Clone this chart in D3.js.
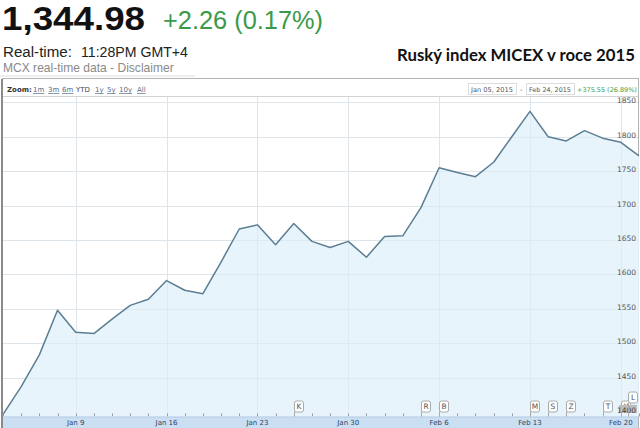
<!DOCTYPE html>
<html><head><meta charset="utf-8">
<script src="https://cdn.jsdelivr.net/npm/d3@7"></script>
<style>body{margin:0;background:#fff}svg{display:block}</style>
</head><body>
<svg id="c" width="640" height="428"></svg>
<script>
// ---- data ----
const dates = ["Jan 5","Jan 6","Jan 7","Jan 8","Jan 9","Jan 12","Jan 13","Jan 14","Jan 15","Jan 16",
  "Jan 19","Jan 20","Jan 21","Jan 22","Jan 23","Jan 26","Jan 27","Jan 28","Jan 29","Jan 30",
  "Feb 2","Feb 3","Feb 4","Feb 5","Feb 6","Feb 9","Feb 10","Feb 11","Feb 12","Feb 13",
  "Feb 16","Feb 17","Feb 18","Feb 19","Feb 20","Feb 24"];
const values = [1396.6,1437,1483,1548,1516,1514,1535,1555,1564,1591,
  1577,1572,1618,1666,1672,1643,1674,1648,1639,1648,
  1625,1655,1656,1697,1755,1748,1742,1763,1800,1837,
  1800,1794,1809,1798,1792,1772.2];
const xTickLabels = ["Jan 9","Jan 16","Jan 23","Jan 30","Feb 6","Feb 13","Feb 20"];
const yTicks = [1400,1450,1500,1550,1600,1650,1700,1750,1800,1850];
const flagLetters = ["K","R","B","M","S","Z","T","Y","L"];
const flagDates = ["Jan 27","Feb 5","Feb 6","Feb 13","Feb 16","Feb 17","Feb 19","Feb 20","Feb 24"];
const flagLevels = [0,0,0,0,0,0,0,0,1];
const zoomLinks = ["1m","3m","6m","YTD","1y","5y","10y","All"];
const price = "1,344.98", change = "+2.26 (0.17%)";
const rangeStart = "Jan 05, 2015", rangeEnd = "Feb 24, 2015", rangeChange = "+375.55 (26.89%)";
const title = "Ruský index MICEX v roce 2015";

const svg = d3.select("#c");
const SANS = "'Liberation Sans', Arial, sans-serif";
const SMALL = "'DejaVu Sans', Verdana, sans-serif";

function fit(sel, w){ const l = sel.node().getComputedTextLength(); const fs = parseFloat(sel.attr("font-size")); sel.attr("font-size", fs*w/l); return sel; }
function stretch(sel, w){ sel.attr("textLength", w).attr("lengthAdjust","spacingAndGlyphs"); return sel; }

// ---- header ----
stretch(svg.append("text").attr("x",2).attr("y",30).attr("font-family",SANS).attr("font-weight","bold").attr("font-size",33).attr("fill","#111").text(price),143);
stretch(svg.append("text").attr("x",163).attr("y",28.5).attr("font-family",SANS).attr("font-size",26).attr("fill","#3a9a4a").text(change),160);
fit(svg.append("text").attr("x",3).attr("y",57).attr("font-family",SANS).attr("font-size",14.5).attr("fill","#222").text("Real-time:"),69);
fit(svg.append("text").attr("x",81).attr("y",57).attr("font-family",SANS).attr("font-size",14.5).attr("fill","#222").text("11:28PM GMT+4"),107);
fit(svg.append("text").attr("x",3).attr("y",72).attr("font-family",SANS).attr("font-size",13).attr("fill","#8a8a8a").text("MCX real-time data - Disclaimer"),171);
fit(svg.append("text").attr("x",397).attr("y",61).attr("font-family","Lato, 'Open Sans', sans-serif").attr("font-weight","bold").attr("font-size",17).attr("fill","#111").text(title),238);
svg.append("rect").attr("x",0).attr("y",75).attr("width",195).attr("height",2).attr("fill","#eee");

// ---- chart frame ----
const L = 3, R = 638, TOP = 96, BOT = 416.5;
svg.append("rect").attr("x",2.5).attr("y",78.5).attr("width",636).attr("height",360).attr("fill","#fff").attr("stroke","#b4b4b4");
svg.append("line").attr("x1",3).attr("x2",638).attr("y1",96.5).attr("y2",96.5).attr("stroke","#d4d4d4");

// zoom row
svg.append("text").attr("x",7).attr("y",92).attr("font-family",SMALL).attr("font-weight","bold").attr("font-size",7).attr("fill","#333").text("Zoom:");
const zx = [33,48,62,76,95,107,119,137];
zoomLinks.forEach((z,i)=>{
  const t = svg.append("text").attr("x",zx[i]).attr("y",92).attr("font-family",SMALL).attr("font-size",7).attr("fill",z==="YTD"?"#444":"#5a6d8c").text(z);
  if(z!=="YTD") t.attr("text-decoration","underline");
});
const rs = svg.append("text").attr("x",471).attr("y",92).attr("font-family",SMALL).attr("font-size",7).attr("fill","#555").text(rangeStart);
fit(rs,42);
svg.append("rect").attr("x",468.5).attr("y",83.5).attr("width",48).attr("height",11).attr("fill","none").attr("stroke","#ddd");
svg.append("text").attr("x",520).attr("y",92).attr("font-family",SMALL).attr("font-size",7).attr("fill","#555").text("-");
const re = svg.append("text").attr("x",529).attr("y",92).attr("font-family",SMALL).attr("font-size",7).attr("fill","#555").text(rangeEnd);
fit(re,42);
svg.append("rect").attr("x",526.5).attr("y",83.5).attr("width",48).attr("height",11).attr("fill","none").attr("stroke","#ddd");
fit(svg.append("text").attr("x",577).attr("y",92).attr("font-family",SMALL).attr("font-size",7).attr("fill","#3a9a4a").text(rangeChange),60);

// ---- scales ----
const x = d3.scaleLinear().domain([0, dates.length-1]).range([3, 639]);
const y = d3.scaleLinear().domain([1400, 1850]).range([412, 102.4]);
const idx = d => dates.indexOf(d);

const g = svg.append("g");
// horizontal grid
g.selectAll(".hg").data(yTicks.filter(t=>t>1400)).join("line")
  .attr("x1",L).attr("x2",R).attr("y1",d=>Math.round(y(d))+0.5).attr("y2",d=>Math.round(y(d))+0.5)
  .attr("stroke","#e6e6e6");
// vertical grid
g.selectAll(".vg").data(xTickLabels).join("line")
  .attr("x1",d=>Math.round(x(idx(d)))+0.5).attr("x2",d=>Math.round(x(idx(d)))+0.5)
  .attr("y1",TOP+1).attr("y2",BOT).attr("stroke","#e6e6e6");

// area + line
const area = d3.area().x((d,i)=>x(i)).y0(BOT).y1(d=>y(d));
const line = d3.line().x((d,i)=>x(i)).y(d=>y(d));
g.append("path").datum(values).attr("d",area).attr("fill","#e4f3fc").attr("fill-opacity",0.9);
g.selectAll(".hg2").data(yTicks.filter(t=>t>1400)).join("line")
  .attr("x1",L).attr("x2",R).attr("y1",d=>Math.round(y(d))+0.5).attr("y2",d=>Math.round(y(d))+0.5)
  .attr("stroke","#d8e4ec").attr("stroke-opacity",0.6);
g.selectAll(".vg2").data(xTickLabels).join("line")
  .attr("x1",d=>Math.round(x(idx(d)))+0.5).attr("x2",d=>Math.round(x(idx(d)))+0.5)
  .attr("y1",TOP+1).attr("y2",BOT).attr("stroke","#d8e4ec").attr("stroke-opacity",0.6);
g.append("path").datum(values).attr("d",line).attr("fill","none").attr("stroke","#5b7e93").attr("stroke-width",1.5).attr("stroke-linejoin","round");

// y labels (1400 drawn later with its highlight box)
g.selectAll(".yl").data(yTicks.filter(t=>t>1400)).join("text")
  .attr("x",636).attr("y",d=>y(d)+1).attr("text-anchor","end")
  .attr("font-family",SMALL).attr("font-size",7.5).attr("fill","#555").text(d=>d);

// x axis band
svg.append("rect").attr("x",3).attr("y",BOT).attr("width",635).attr("height",428-BOT).attr("fill","#cbdff2");
svg.append("line").attr("x1",3).attr("x2",638).attr("y1",BOT+0.5).attr("y2",BOT+0.5).attr("stroke","#b7cde4");
g.selectAll(".tk").data(dates).join("line")
  .attr("x1",(d,i)=>Math.round(x(i))+0.5).attr("x2",(d,i)=>Math.round(x(i))+0.5)
  .attr("y1",BOT-3).attr("y2",BOT).attr("stroke","#999");
svg.selectAll(".xl").data(xTickLabels).join("text")
  .attr("x",d=>x(idx(d))).attr("y",425).attr("text-anchor","middle")
  .attr("font-family",SMALL).attr("font-size",7).attr("fill","#2f3f66").text(d=>d);

// flags
const fw = 9, fh = 11;
flagLetters.forEach((f,i)=>{
  let fx = x(idx(flagDates[i]));
  let bx = Math.min(fx, 637 - fw);
  const by = BOT - 5 - fh - flagLevels[i]*9;
  svg.append("line").attr("x1",Math.round(bx)+0.5).attr("x2",Math.round(bx)+0.5).attr("y1",by+fh).attr("y2",BOT).attr("stroke","#aaa");
  svg.append("rect").attr("x",Math.round(bx)+0.5).attr("y",by+0.5).attr("width",fw).attr("height",fh).attr("rx",2)
    .attr("fill","#fff").attr("stroke","#aaa");
  svg.append("text").attr("x",Math.round(bx)+0.5+fw/2).attr("y",by+fh-2.5).attr("text-anchor","middle")
    .attr("font-family",SMALL).attr("font-size",7.5).attr("fill","#555").text(f);
  if(f==="Y"){
    // current-value label box overlapping the Y flag, as in the original
    svg.append("rect").attr("x",619).attr("y",405).attr("width",18).attr("height",8).attr("fill","#bdbdbd");
    svg.append("text").attr("x",636).attr("y",y(1400)+1).attr("text-anchor","end")
      .attr("font-family",SMALL).attr("font-size",7.5).attr("fill","#444").text(yTicks[0]);
  }
});
svg.append("line").attr("x1",2).attr("x2",2).attr("y1",79).attr("y2",428).attr("stroke","#8a8a8a").attr("stroke-width",2);
</script>
</body></html>
